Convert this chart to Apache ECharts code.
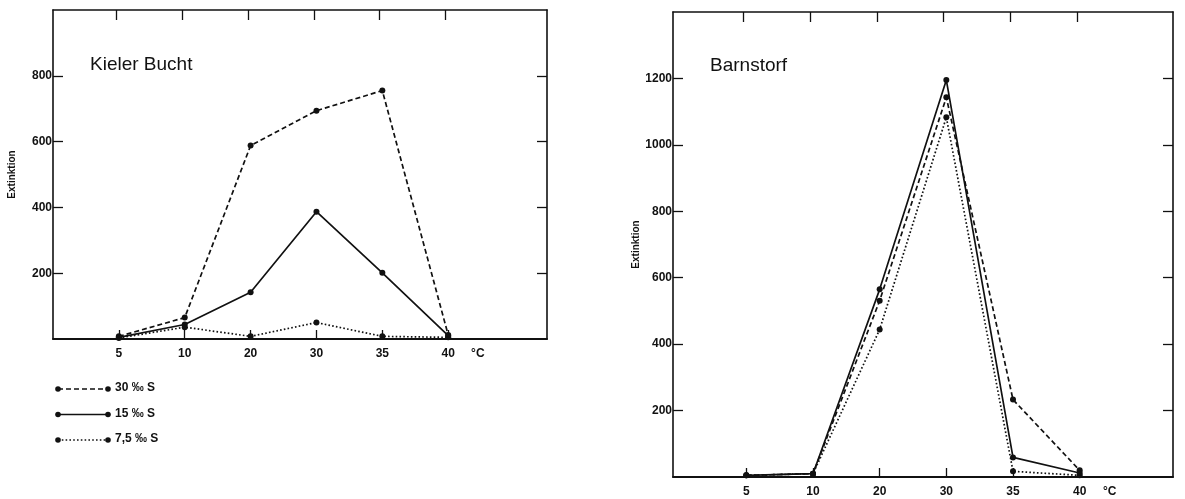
<!DOCTYPE html>
<html>
<head>
<meta charset="utf-8">
<script src="https://cdn.jsdelivr.net/npm/echarts@6/dist/echarts.min.js"></script>
<style>
  html, body { margin: 0; padding: 0; background: #ffffff; }
  #chart { width: 1185px; height: 499px; }
</style>
</head>
<body>
<div id="chart"></div>
<script>
// Temperature steps (°C) shared by both panels
const temperatures = ['5', '10', '20', '30', '35', '40'];

// Kieler Bucht: extinction per salinity
const kielerS30 = [8, 65, 588, 694, 755, 12];
const kielerS15 = [5, 44, 142, 387, 201, 10];
const kielerS75 = [3, 36, 8, 50, 8, 5];

// Barnstorf: extinction per salinity
const barnS30 = [5, 10, 531, 1143, 233, 20];
const barnS15 = [5, 10, 565, 1195, 59, 12];
const barnS75 = [5, 10, 444, 1083, 17, 5];

// Y tick labels
const kielerTicks = [200, 400, 600, 800];
const barnTicks = [200, 400, 600, 800, 1000, 1200];

// Legend entries (salinity)
const salinityLabels = ['30 ‰ S', '15 ‰ S', '7,5 ‰ S'];
const salinityDash = ['dashed', 'solid', 'dotted'];

const FONT = 'Liberation Sans, Arial, sans-serif';
const INK = '#111';

// category index positions 1..6 on a value axis
const positions = temperatures.map((_, i) => i + 1);
const toPairs = vals => vals.map((v, i) => [positions[i], v]);
const tempLabel = v => {
  const i = positions.indexOf(Math.round(v * 100) / 100);
  if (i >= 0) return temperatures[i];
  return '°C';
};

function dashOf(t) {
  if (t === 'dashed') return [5, 3];
  if (t === 'dotted') return [1.6, 2.2];
  return 'solid';
}

function xAxes(gridIndex, min, max) {
  return [
    {
      type: 'value', gridIndex, min, max, position: 'bottom',
      splitLine: { show: false },
      axisLine: { show: true, onZero: false, lineStyle: { color: INK, width: 2 } },
      axisTick: { show: true, inside: true, length: 9, customValues: positions, lineStyle: { color: INK, width: 1.3 } },
      axisLabel: {
        show: true, customValues: positions.concat([6.45]), formatter: tempLabel,
        color: INK, fontFamily: FONT, fontSize: 12, fontWeight: 'bold', margin: 9
      }
    },
    {
      type: 'value', gridIndex, min, max, position: 'top',
      splitLine: { show: false },
      axisLine: { show: true, onZero: false, lineStyle: { color: INK, width: 1.6 } },
      axisTick: { show: true, inside: true, length: 10, customValues: positions.map(p => p - 0.04), lineStyle: { color: INK, width: 1.3 } },
      axisLabel: { show: false }
    }
  ];
}

function yAxes(gridIndex, max, ticks, nameGap) {
  return [
    {
      type: 'value', gridIndex, min: 0, max, position: 'left',
      name: 'Extinktion', nameLocation: 'middle', nameGap, nameRotate: 90,
      nameTextStyle: { color: INK, fontFamily: FONT, fontSize: 10, fontWeight: 'bold' },
      splitLine: { show: false },
      axisLine: { show: true, onZero: false, lineStyle: { color: INK, width: 1.6 } },
      axisTick: { show: true, inside: true, length: 10, customValues: ticks, lineStyle: { color: INK, width: 1.3 } },
      axisLabel: {
        show: true, customValues: ticks, formatter: v => String(v),
        color: INK, fontFamily: FONT, fontSize: 12, fontWeight: 'bold', margin: 1
      }
    },
    {
      type: 'value', gridIndex, min: 0, max, position: 'right',
      splitLine: { show: false },
      axisLine: { show: true, onZero: false, lineStyle: { color: INK, width: 1.6 } },
      axisTick: { show: true, inside: true, length: 10, customValues: ticks, lineStyle: { color: INK, width: 1.3 } },
      axisLabel: { show: false }
    }
  ];
}

function lineSeries(name, data, dash, xi, yi) {
  return {
    type: 'line', name, data: toPairs(data),
    xAxisIndex: xi, yAxisIndex: yi,
    symbol: 'circle', symbolSize: 6,
    itemStyle: { color: INK },
    lineStyle: { color: INK, width: 1.7, type: dashOf(dash) },
    silent: true, animation: false, z: 3
  };
}

// legend drawn as sample lines with end dots
const legendGraphics = [];
salinityLabels.forEach((lab, i) => {
  const y = 389 + i * 25.5;
  const d = dashOf(salinityDash[i]);
  legendGraphics.push({
    type: 'line', shape: { x1: 58, y1: y, x2: 108, y2: y },
    style: { stroke: INK, lineWidth: 1.4, lineDash: d === 'solid' ? null : d }
  });
  legendGraphics.push({ type: 'circle', shape: { cx: 58, cy: y, r: 2.8 }, style: { fill: INK } });
  legendGraphics.push({ type: 'circle', shape: { cx: 108, cy: y, r: 2.8 }, style: { fill: INK } });
  legendGraphics.push({
    type: 'text', left: 115, top: y - 7,
    style: { text: lab, fill: INK, font: 'bold 12px ' + FONT }
  });
});

const chart = echarts.init(document.getElementById('chart'), null, { renderer: 'canvas' });
chart.setOption({
  animation: false,
  backgroundColor: '#ffffff',
  title: [
    { text: 'Kieler Bucht', left: 85, top: 50, textStyle: { color: INK, fontFamily: FONT, fontSize: 19, fontWeight: 'normal' } },
    { text: 'Barnstorf', left: 705, top: 51, textStyle: { color: INK, fontFamily: FONT, fontSize: 19, fontWeight: 'normal' } }
  ],
  grid: [
    { left: 53, top: 10, width: 494, height: 329 },
    { left: 673, top: 12, width: 500, height: 465 }
  ],
  xAxis: [...xAxes(0, 0, 7.5), ...xAxes(1, -0.1, 7.4)],
  yAxis: [...yAxes(0, 1000, kielerTicks, 36), ...yAxes(1, 1400, barnTicks, 31)],
  series: [
    lineSeries(salinityLabels[0], kielerS30, 'dashed', 0, 0),
    lineSeries(salinityLabels[1], kielerS15, 'solid', 0, 0),
    lineSeries(salinityLabels[2], kielerS75, 'dotted', 0, 0),
    lineSeries(salinityLabels[0], barnS30, 'dashed', 2, 2),
    lineSeries(salinityLabels[1], barnS15, 'solid', 2, 2),
    lineSeries(salinityLabels[2], barnS75, 'dotted', 2, 2)
  ],
  graphic: legendGraphics
});
</script>
</body>
</html>
